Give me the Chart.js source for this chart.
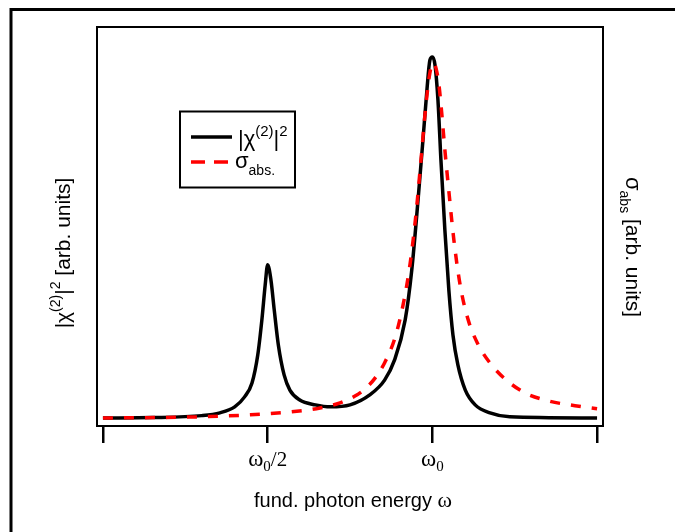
<!DOCTYPE html>
<html>
<head>
<meta charset="utf-8">
<script src="https://cdn.jsdelivr.net/npm/chart.js@4.4.1/dist/chart.umd.min.js"></script>
<style>
  body { margin: 0; background: #fff; }
  canvas { display: block; }
</style>
</head>
<body>
<canvas id="myChart" width="675" height="532"></canvas>
<script>
// x in units of w0/2 (tick 1 = w0/2, tick 2 = w0)
var xTicks = [0, 1, 2, 3];

// |chi(2)|^2
var chiX = [0, 0.3, 0.6, 0.71, 0.80, 0.86, 0.905, 0.94, 0.965, 0.985, 1.0, 1.02, 1.04, 1.065, 1.10, 1.135, 1.195, 1.29, 1.38, 1.5, 1.62, 1.71, 1.77, 1.835, 1.875, 1.913, 1.943, 1.967, 1.985, 2.0, 2.016, 2.034, 2.052, 2.076, 2.10, 2.125, 2.155, 2.20, 2.26, 2.35, 2.47, 3.0];
var chiY = [0.020, 0.021, 0.026, 0.033, 0.048, 0.073, 0.108, 0.178, 0.266, 0.353, 0.404, 0.366, 0.291, 0.203, 0.128, 0.090, 0.065, 0.053, 0.048, 0.053, 0.078, 0.115, 0.165, 0.266, 0.391, 0.566, 0.717, 0.842, 0.917, 0.925, 0.905, 0.817, 0.667, 0.491, 0.341, 0.228, 0.153, 0.090, 0.053, 0.033, 0.023, 0.020];

// sigma_abs
var sigX = [0, 0.589, 0.893, 1.135, 1.318, 1.439, 1.530, 1.591, 1.652, 1.712, 1.773, 1.822, 1.864, 1.900, 1.931, 1.961, 1.985, 2.004, 2.022, 2.040, 2.058, 2.076, 2.101, 2.131, 2.168, 2.216, 2.277, 2.350, 2.441, 2.562, 2.714, 2.866, 3.0];
var sigY = [0.020, 0.023, 0.028, 0.035, 0.045, 0.058, 0.075, 0.093, 0.120, 0.160, 0.221, 0.303, 0.404, 0.529, 0.667, 0.805, 0.885, 0.910, 0.897, 0.855, 0.779, 0.692, 0.585, 0.465, 0.355, 0.268, 0.205, 0.158, 0.118, 0.083, 0.062, 0.051, 0.043];

function pts(xs, ys) {
  return xs.map(function (x, i) { return { x: x, y: ys[i] }; });
}

var SANS = '"Liberation Sans", Arial, sans-serif';
var SERIF = '"Liberation Serif", "Times New Roman", serif';

// draws a run of text pieces [text, font, dy], centered (or left) at x,y
function rich(ctx, parts, x, y, angle, left) {
  ctx.save();
  ctx.translate(x, y);
  ctx.rotate(angle || 0);
  ctx.fillStyle = '#000';
  ctx.textBaseline = 'alphabetic';
  ctx.textAlign = 'left';
  var w = 0;
  parts.forEach(function (p) { ctx.font = p[1]; w += ctx.measureText(p[0]).width; });
  var cx = left ? 0 : -w / 2;
  parts.forEach(function (p) {
    ctx.font = p[1];
    ctx.fillText(p[0], cx, p[2] || 0);
    cx += ctx.measureText(p[0]).width;
  });
  ctx.restore();
}

function chiLabel(big, small) {
  return [['|\u03c7', big + 'px ' + SANS], ['(2)', small + 'px ' + SANS, -10], ['|', big + 'px ' + SANS], ['2', small + 'px ' + SANS, -10]];
}

var decor = {
  id: 'decor',
  afterDraw: function (chart) {
    var c = chart.ctx, a = chart.chartArea, sx = chart.scales.x;
    c.save();
    // outer frame
    c.strokeStyle = '#000';
    c.lineWidth = 3;
    c.beginPath();
    c.moveTo(11, 532); c.lineTo(11, 9.5); c.lineTo(675, 9.5);
    c.stroke();
    // plot box
    c.lineWidth = 2;
    c.strokeRect(a.left, a.top, a.right - a.left, a.bottom - a.top);

    // tick labels
    rich(c, [['\u03c9', '23px ' + SERIF], ['0', '15px ' + SERIF, 5], ['/2', '21px ' + SERIF]], sx.getPixelForValue(1), 466);
    rich(c, [['\u03c9', '23px ' + SERIF], ['0', '15px ' + SERIF, 5]], sx.getPixelForValue(2), 466);

    // axis titles
    rich(c, [['fund. photon energy ', '20px ' + SANS], ['\u03c9', '22px ' + SERIF]], 353, 507);
    rich(c, chiLabel(21, 14).concat([[' [arb. units]', '21px ' + SANS]]), 70, 253, -Math.PI / 2);
    rich(c, [['\u03c3', '22px ' + SANS], ['abs', '14px ' + SANS, 6], [' [arb. units]', '21px ' + SANS]], 626, 247, Math.PI / 2);

    // legend
    c.lineWidth = 2;
    c.strokeRect(180, 111.5, 115, 76);
    c.lineWidth = 3.5;
    c.beginPath(); c.moveTo(191, 137); c.lineTo(232, 137); c.stroke();
    c.strokeStyle = '#ff0000';
    c.setLineDash([14, 9]);
    c.beginPath(); c.moveTo(191, 162); c.lineTo(233, 162); c.stroke();
    c.setLineDash([]);
    rich(c, chiLabel(22, 15), 238, 146, 0, true);
    rich(c, [['\u03c3', '22px ' + SANS], ['abs.', '14px ' + SANS, 7]], 235, 168, 0, true);
    c.restore();
  }
};

var ctx = document.getElementById('myChart');
var chart = new Chart(ctx, {
  type: 'line',
  data: {
    datasets: [{
      label: 'sigma abs',
      data: pts(sigX, sigY),
      yAxisID: 'y1',
      borderColor: '#ff0000',
      borderWidth: 3.5,
      borderDash: [10, 11],
      pointRadius: 0,
      cubicInterpolationMode: 'monotone',
      fill: false
    }, {
      label: 'chi2',
      data: pts(chiX, chiY),
      yAxisID: 'y',
      borderColor: '#000',
      borderWidth: 3.5,
      pointRadius: 0,
      cubicInterpolationMode: 'monotone',
      fill: false
    }]
  },
  options: {
    responsive: false,
    animation: false,
    layout: { padding: { left: 97, right: 72, top: 27, bottom: 0 } },
    plugins: { legend: { display: false }, tooltip: { enabled: false } },
    scales: {
      x: {
        type: 'linear',
        min: -0.036,
        max: 3.036,
        afterBuildTicks: function (s) { s.ticks = xTicks.map(function (v) { return { value: v }; }); },
        afterFit: function (s) { s.height = 106; },
        ticks: { display: false },
        grid: { drawOnChartArea: false, color: '#000', lineWidth: 2.5, tickLength: 17 },
        border: { display: false }
      },
      y: { display: false, min: 0, max: 1 },
      y1: { display: false, min: 0, max: 1, position: 'right' }
    }
  },
  plugins: [decor]
});
</script>
</body>
</html>
